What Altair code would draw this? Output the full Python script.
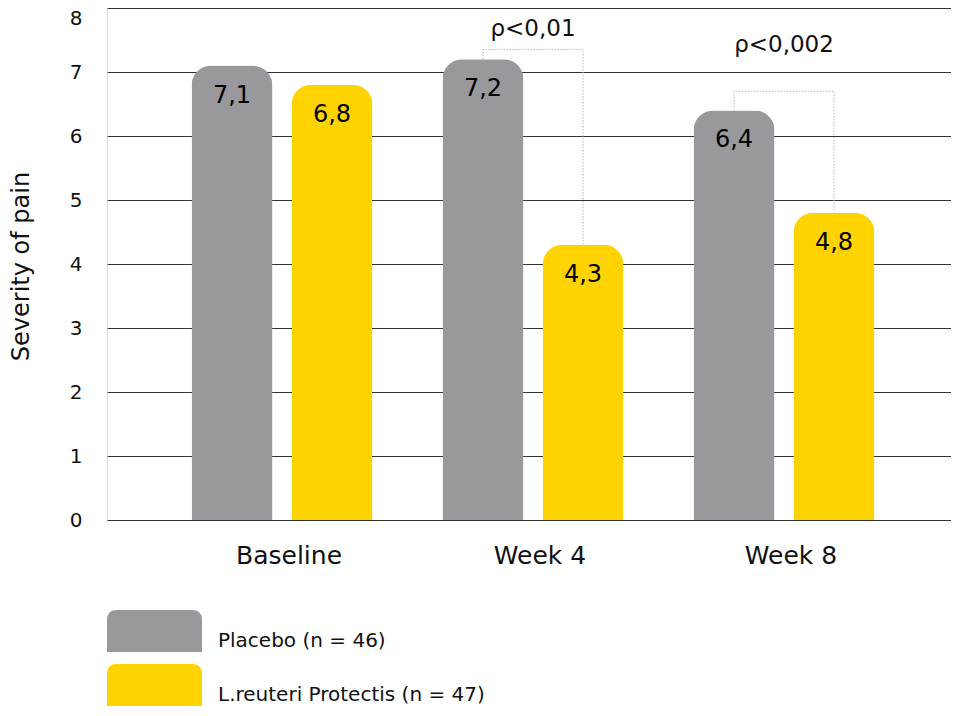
import altair as alt
import pandas as pd

groups = ["Baseline", "Week 4", "Week 8"]
series = ["Placebo (n = 46)", "L.reuteri Protectis (n = 47)"]
placebo = [7.1, 7.2, 6.4]
reuteri = [6.8, 4.3, 4.8]
colors = ["#99989d", "#ffd300"]

p_groups = ["Week 4", "Week 8"]
p_texts = ["ρ<0,01", "ρ<0,002"]
p_bracket = [7.35, 6.70]
p_text_y = [7.67, 7.42]

FONT = "DejaVu Sans"

rows = []
for g, a, b in zip(groups, placebo, reuteri):
    rows.append({"Group": g, "Series": series[0], "Value": a, "Label": f"{a:.1f}".replace(".", ",")})
    rows.append({"Group": g, "Series": series[1], "Value": b, "Label": f"{b:.1f}".replace(".", ",")})
bars_df = pd.DataFrame(rows)

br_rows = []
for g, yb in zip(p_groups, p_bracket):
    i = groups.index(g)
    br_rows.append({"Group": g, "Series": series[0], "Value": placebo[i], "o": 0})
    br_rows.append({"Group": g, "Series": series[0], "Value": yb, "o": 1})
    br_rows.append({"Group": g, "Series": series[1], "Value": yb, "o": 2})
    br_rows.append({"Group": g, "Series": series[1], "Value": reuteri[i], "o": 3})
br_df = pd.DataFrame(br_rows)

pt_df = pd.DataFrame({"Group": p_groups, "Value": p_text_y, "Text": p_texts})

x_enc = alt.X(
    "Group:N",
    sort=groups,
    scale=alt.Scale(domain=groups, paddingInner=0.279, paddingOuter=0.3208, align=0.525),
    axis=alt.Axis(
        title=None, labelAngle=0, labelAlign="center", ticks=False, domain=False,
        labelPadding=35, labelFontSize=25, labelFont=FONT, labelColor="#111",
        labelOffset=7,
    ),
)
xoff = alt.XOffset("Series:N", sort=series,
                   scale=alt.Scale(domain=series, paddingInner=0.19, paddingOuter=0))
y_enc = alt.Y(
    "Value:Q",
    scale=alt.Scale(domain=[0, 8], nice=False),
    axis=alt.Axis(
        values=list(range(9)), format="d", title="Severity of pain", grid=True,
        gridColor="#333333", gridWidth=1.2, ticks=False, domain=False, labelPadding=25,
        labelFontSize=20, labelFont=FONT, labelColor="#111",
        labelOffset=alt.ConditionalAxisNumber(
            condition={"test": "datum.value == 8", "value": 10}, value=0
        ),
        titleFont=FONT, titleFontSize=24, titleFontWeight="normal", titleColor="#111",
        titleX=-74, titleY=258, titleAngle=-90, titleAlign="center",
        titleBaseline="bottom",
    ),
)

legend_path = ("M-2.262,1 L-2.262,-0.524 Q-2.262,-1 -1.786,-1 L1.786,-1 "
               "Q2.262,-1 2.262,-0.524 L2.262,1 Z")

color_enc = alt.Color(
    "Series:N",
    sort=series,
    scale=alt.Scale(domain=series, range=colors),
    legend=alt.Legend(
        title=None, orient="none", legendX=26.5, legendY=602, symbolType=legend_path,
        symbolSize=1764, symbolStrokeWidth=0, symbolOpacity=1, labelFont=FONT,
        labelFontSize=20, labelColor="#111", labelBaseline="top", labelOffset=42.5,
        rowPadding=12, padding=0, labelLimit=500,
    ),
)

bars = alt.Chart(bars_df).mark_bar(
    cornerRadiusTopLeft=20, cornerRadiusTopRight=20
).encode(x=x_enc, xOffset=xoff, y=y_enc, color=color_enc)

vals = alt.Chart(bars_df).mark_text(
    dy=30, fontSize=24, font=FONT, color="#000", baseline="middle"
).encode(x=alt.X("Group:N", sort=groups), xOffset=alt.XOffset("Series:N", sort=series),
         y="Value:Q", text="Label:N")

brackets = alt.Chart(br_df).mark_line(
    strokeDash=[1.5, 1.5], strokeWidth=1, color="#b5b5b5"
).encode(x=alt.X("Group:N", sort=groups), xOffset=alt.XOffset("Series:N", sort=series),
         y="Value:Q", detail="Group:N", order="o:Q")

ptext = alt.Chart(pt_df).mark_text(
    fontSize=23, font=FONT, color="#111", baseline="middle"
).encode(x=alt.X("Group:N", sort=groups), y="Value:Q", text="Text:N")

chart = alt.layer(brackets, bars, vals, ptext).properties(
    width=844, height=512,
    autosize=alt.AutoSizeParams(type="none"),
    padding={"left": 99, "top": 0, "right": 0, "bottom": 188},
).configure_view(stroke=None).configure(background="white")

chart.save("out.html", embed_options={"renderer": "svg", "actions": False})
